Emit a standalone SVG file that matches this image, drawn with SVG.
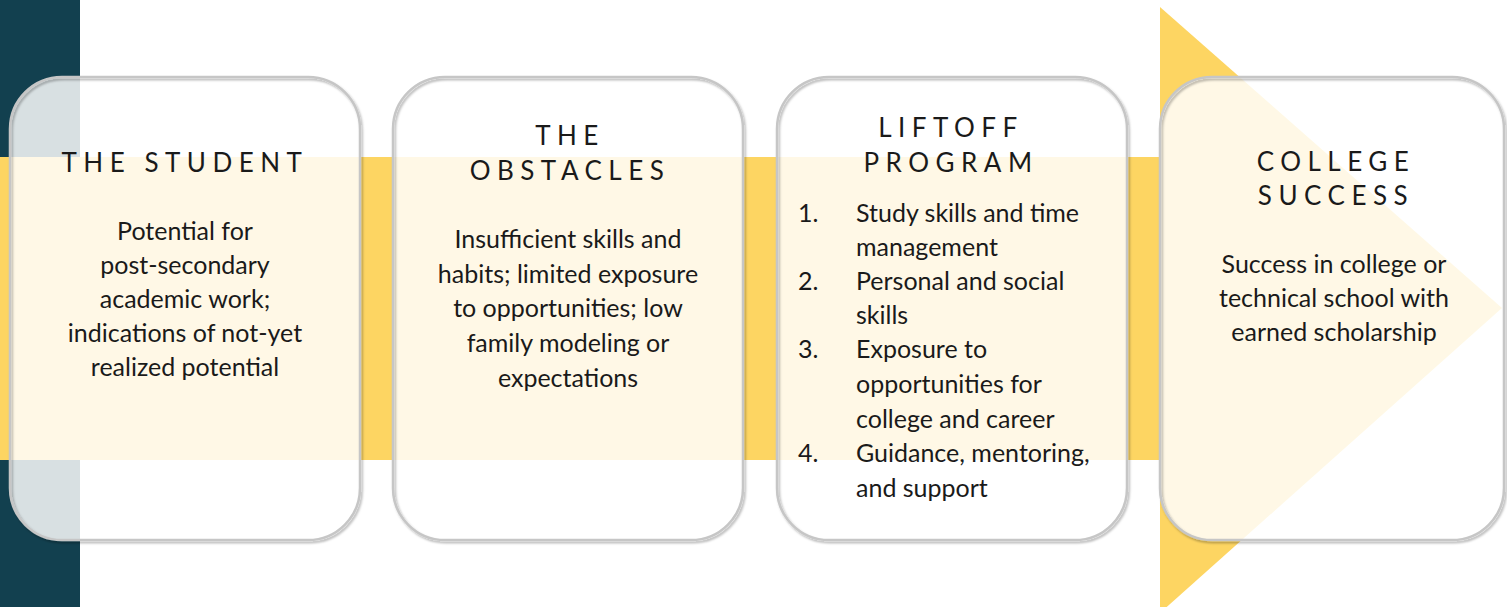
<svg xmlns="http://www.w3.org/2000/svg" width="1507" height="607" viewBox="0 0 1507 607">
<defs>
<filter id="sh" x="-5%" y="-5%" width="110%" height="110%">
<feDropShadow dx="1.5" dy="2" stdDeviation="1.2" flood-color="#000" flood-opacity="0.3"/>
</filter>
</defs>
<style>
.card{fill:#ffffff;fill-opacity:0.84;stroke:none}
.edge{fill:none;stroke:#c6c6c6;stroke-width:2.5;filter:url(#sh)}
.title{font-family:Lato,"Liberation Sans",sans-serif;font-size:26px;letter-spacing:6.5px;fill:#1a1a1a;text-anchor:middle}
.body{font-family:Lato,"Liberation Sans",sans-serif;font-size:25px;fill:#1a1a1a;text-anchor:middle}
.item{font-family:Lato,"Liberation Sans",sans-serif;font-size:25px;fill:#1a1a1a}
</style>
<rect x="0" y="0" width="1507" height="607" fill="#ffffff"/>
<g id="background">
<rect x="0" y="0" width="80" height="607" fill="#12404f"/>
<rect x="0" y="157" width="1165" height="303" fill="#fdd562"/>
<polygon points="1160,7 1502,308 1160,613" fill="#fdd562"/>
</g>
<g id="connectors"></g>
<g id="node-student">
<rect class="card" x="10" y="77" width="350" height="463" rx="52"/>
<rect class="edge" x="10" y="77" width="350" height="463" rx="52"/>
<text class="title" x="185" y="172">THE STUDENT</text>
<text class="body" x="185" y="240">Potential for</text>
<text class="body" x="185" y="274">post-secondary</text>
<text class="body" x="185" y="308">academic work;</text>
<text class="body" x="185" y="342">indications of not-yet</text>
<text class="body" x="185" y="376">realized potential</text>
</g>
<g id="node-obstacles">
<rect class="card" x="393" y="77" width="350" height="463" rx="52"/>
<rect class="edge" x="393" y="77" width="350" height="463" rx="52"/>
<text class="title" x="570" y="145">THE</text>
<text class="title" x="570" y="180">OBSTACLES</text>
<text class="body" x="568" y="248">Insufficient skills and</text>
<text class="body" x="568" y="283">habits; limited exposure</text>
<text class="body" x="568" y="317">to opportunities; low</text>
<text class="body" x="568" y="352">family modeling or</text>
<text class="body" x="568" y="387">expectations</text>
</g>
<g id="node-liftoff">
<rect class="card" x="777" y="77" width="350" height="463" rx="52"/>
<rect class="edge" x="777" y="77" width="350" height="463" rx="52"/>
<text class="title" x="951" y="137">LIFTOFF</text>
<text class="title" x="951" y="172">PROGRAM</text>
<text class="item" x="798" y="222">1.</text>
<text class="item" x="856" y="222">Study skills and time</text>
<text class="item" x="856" y="256">management</text>
<text class="item" x="798" y="290">2.</text>
<text class="item" x="856" y="290">Personal and social</text>
<text class="item" x="856" y="324">skills</text>
<text class="item" x="798" y="358">3.</text>
<text class="item" x="856" y="358">Exposure to</text>
<text class="item" x="856" y="393">opportunities for</text>
<text class="item" x="856" y="428">college and career</text>
<text class="item" x="798" y="462">4.</text>
<text class="item" x="856" y="462">Guidance, mentoring,</text>
<text class="item" x="856" y="497">and support</text>
</g>
<g id="node-success">
<rect class="card" x="1160" y="77" width="344" height="463" rx="52"/>
<rect class="edge" x="1160" y="77" width="344" height="463" rx="52"/>
<text class="title" x="1336" y="171">COLLEGE</text>
<text class="title" x="1336" y="205">SUCCESS</text>
<text class="body" x="1334" y="273">Success in college or</text>
<text class="body" x="1334" y="307">technical school with</text>
<text class="body" x="1334" y="341">earned scholarship</text>
</g>
</svg>
